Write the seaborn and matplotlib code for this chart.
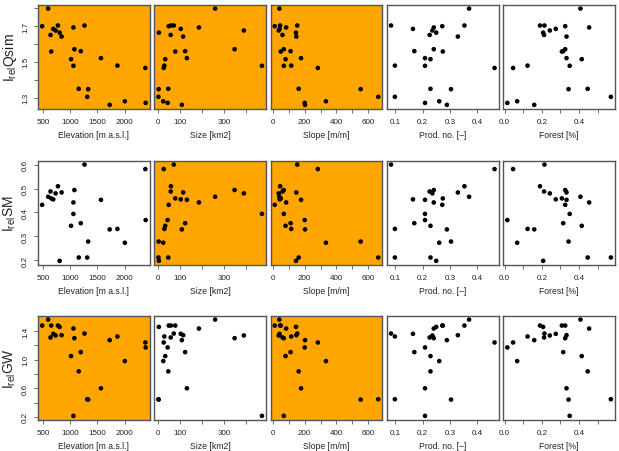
import matplotlib
matplotlib.use("Agg")
import matplotlib.pyplot as plt
import numpy as np
import pandas as pd
import seaborn as sns

# catchment attributes, one value per catchment (24 catchments)
elevation = [598, 488, 777, 1263, 691, 1060, 734, 808, 641, 844, 654, 1078,
             1195, 1017, 1564, 1060, 1865, 2376, 1158, 1330, 1312, 1724, 2001, 2382]
size_km2 = [260, 48, 58, 71, 103, 186, 391, 3, 57, 114, 78, 349,
            123, 32, 131, 474, 28, 25, 46, 2, 1, 108, 23, 43]
slope = [40, 11, 45, 153, 42, 83, 36, 145, 60, 147, 49, 68,
         111, 79, 177, 68, 115, 283, 162, 553, 664, 202, 334, 200]
prod_no = [0.370, 0.272, 0.353, 0.085, 0.165, 0.241, 0.236, 0.250, 0.226, 0.329, 0.274, 0.241,
           0.170, 0.229, 0.209, 0.209, 0.099, 0.463, 0.229, 0.304, 0.099, 0.289, 0.261, 0.209]
forest = [0.408, 0.326, 0.190, 0.214, 0.275, 0.455, 0.243, 0.207, 0.212, 0.333, 0.308, 0.326,
          0.315, 0.415, 0.333, 0.350, 0.123, 0.045, 0.447, 0.344, 0.572, 0.159, 0.067, 0.014]

# relative importance values
i_qsim = [1.799, 1.700, 1.704, 1.704, 1.685, 1.693, 1.676, 1.664, 1.651, 1.642, 1.558, 1.571,
          1.560, 1.515, 1.521, 1.478, 1.479, 1.466, 1.349, 1.347, 1.304, 1.259, 1.279, 1.270]
i_sm = [0.466, 0.432, 0.510, 0.601, 0.455, 0.442, 0.480, 0.197, 0.488, 0.484, 0.459, 0.494,
        0.355, 0.344, 0.453, 0.394, 0.331, 0.582, 0.211, 0.278, 0.211, 0.329, 0.273, 0.368]
i_gw = [1.563, 1.479, 1.479, 1.367, 1.363, 1.437, 1.340, 1.460, 1.312, 1.344, 1.479, 1.302,
        1.107, 1.051, 0.600, 0.214, 1.326, 1.242, 0.837, 0.442, 0.447, 1.274, 0.981, 1.172]

df = pd.DataFrame({
    "elev": elevation, "size": size_km2, "slope": slope, "prod": prod_no, "forest": forest,
    "qsim": i_qsim, "sm": i_sm, "gw": i_gw,
})

x_vars = ["elev", "size", "slope", "prod", "forest"]
x_labels = ["Elevation [m a.s.l.]", "Size [km2]", "Slope [m/m]", "Prod. no. [–]", "Forest [%]"]
x_ticks = [[500, 1000, 1500, 2000], [0, 100, 200, 300, 400], [0, 100, 200, 300, 400, 500, 600],
           [0.1, 0.2, 0.3, 0.4], [0.0, 0.1, 0.2, 0.3, 0.4, 0.5]]
x_ticklabels = [["500", "1000", "1500", "2000"], ["0", "100", "", "300", ""],
                ["0", "", "200", "", "400", "", "600"], ["0.1", "0.2", "0.3", "0.4"],
                ["0.0", "", "0.2", "", "0.4", ""]]

y_vars = ["qsim", "sm", "gw"]
y_labels = [r"I$_{\mathrm{rel}}$Qsim", r"I$_{\mathrm{rel}}$SM", r"I$_{\mathrm{rel}}$GW"]
y_ticks = [[1.3, 1.4, 1.5, 1.6, 1.7, 1.8], [0.2, 0.3, 0.4, 0.5, 0.6],
           [0.2, 0.4, 0.6, 0.8, 1.0, 1.2, 1.4]]
y_ticklabels = [["1.3", "", "1.5", "", "1.7", ""], ["0.2", "0.3", "0.4", "0.5", "0.6"],
                ["0.2", "", "0.6", "", "1.0", "", "1.4"]]

# panels with orange background
highlight = [[True, True, True, False, False],
             [False, True, True, False, False],
             [True, False, True, False, False]]

sns.set_style("ticks")
plt.rcParams["font.family"] = ["Liberation Sans", "DejaVu Sans"]
plt.rcParams["mathtext.fontset"] = "custom"
plt.rcParams["mathtext.rm"] = "Liberation Sans"
plt.rcParams["mathtext.it"] = "Liberation Sans:italic"

W, H = 619, 452
fig = plt.figure(figsize=(W / 100, H / 100), dpi=100)

col_left = [38, 154.3, 270.6, 386.9, 503.2]
row_top = [5.7, 161.7, 316.7]
pw, ph = 111.8, 104
edge = "#555555"


def padded(vals):
    lo, hi = min(vals), max(vals)
    d = (hi - lo) * 0.04
    return lo - d, hi + d


for r, ycol in enumerate(y_vars):
    for c, xcol in enumerate(x_vars):
        ax = fig.add_axes([col_left[c] / W, 1 - (row_top[r] + ph) / H, pw / W, ph / H])
        ax.set_facecolor("#FFA500" if highlight[r][c] else "white")
        sns.scatterplot(data=df, x=xcol, y=ycol, ax=ax, color="black", s=11,
                        edgecolor="none", linewidth=0)
        ax.set_xticks(x_ticks[c])
        ax.set_xticklabels(x_ticklabels[c])
        if c == 0:
            ax.set_yticks(y_ticks[r])
            ax.set_yticklabels(y_ticklabels[r], rotation=90, va="center")
        else:
            ax.set_yticks([])
        ax.set_xlim(padded(df[xcol]))
        ax.set_ylim(padded(df[ycol]))
        ax.set_xlabel(x_labels[c], fontsize=6.2, color="#222222", labelpad=4)
        ax.set_ylabel("")
        ax.tick_params(length=3, width=0.6, color=edge, labelsize=5.8,
                       labelcolor="#222222", pad=3.5)
        for sp in ax.spines.values():
            sp.set_color(edge)
            sp.set_linewidth(1.0)

    fig.text(10 / W, 1 - (row_top[r] + ph / 2) / H, y_labels[r], rotation=90,
             ha="center", va="center", fontsize=10, color="#222222")

fig.savefig("out.png", dpi=100)
